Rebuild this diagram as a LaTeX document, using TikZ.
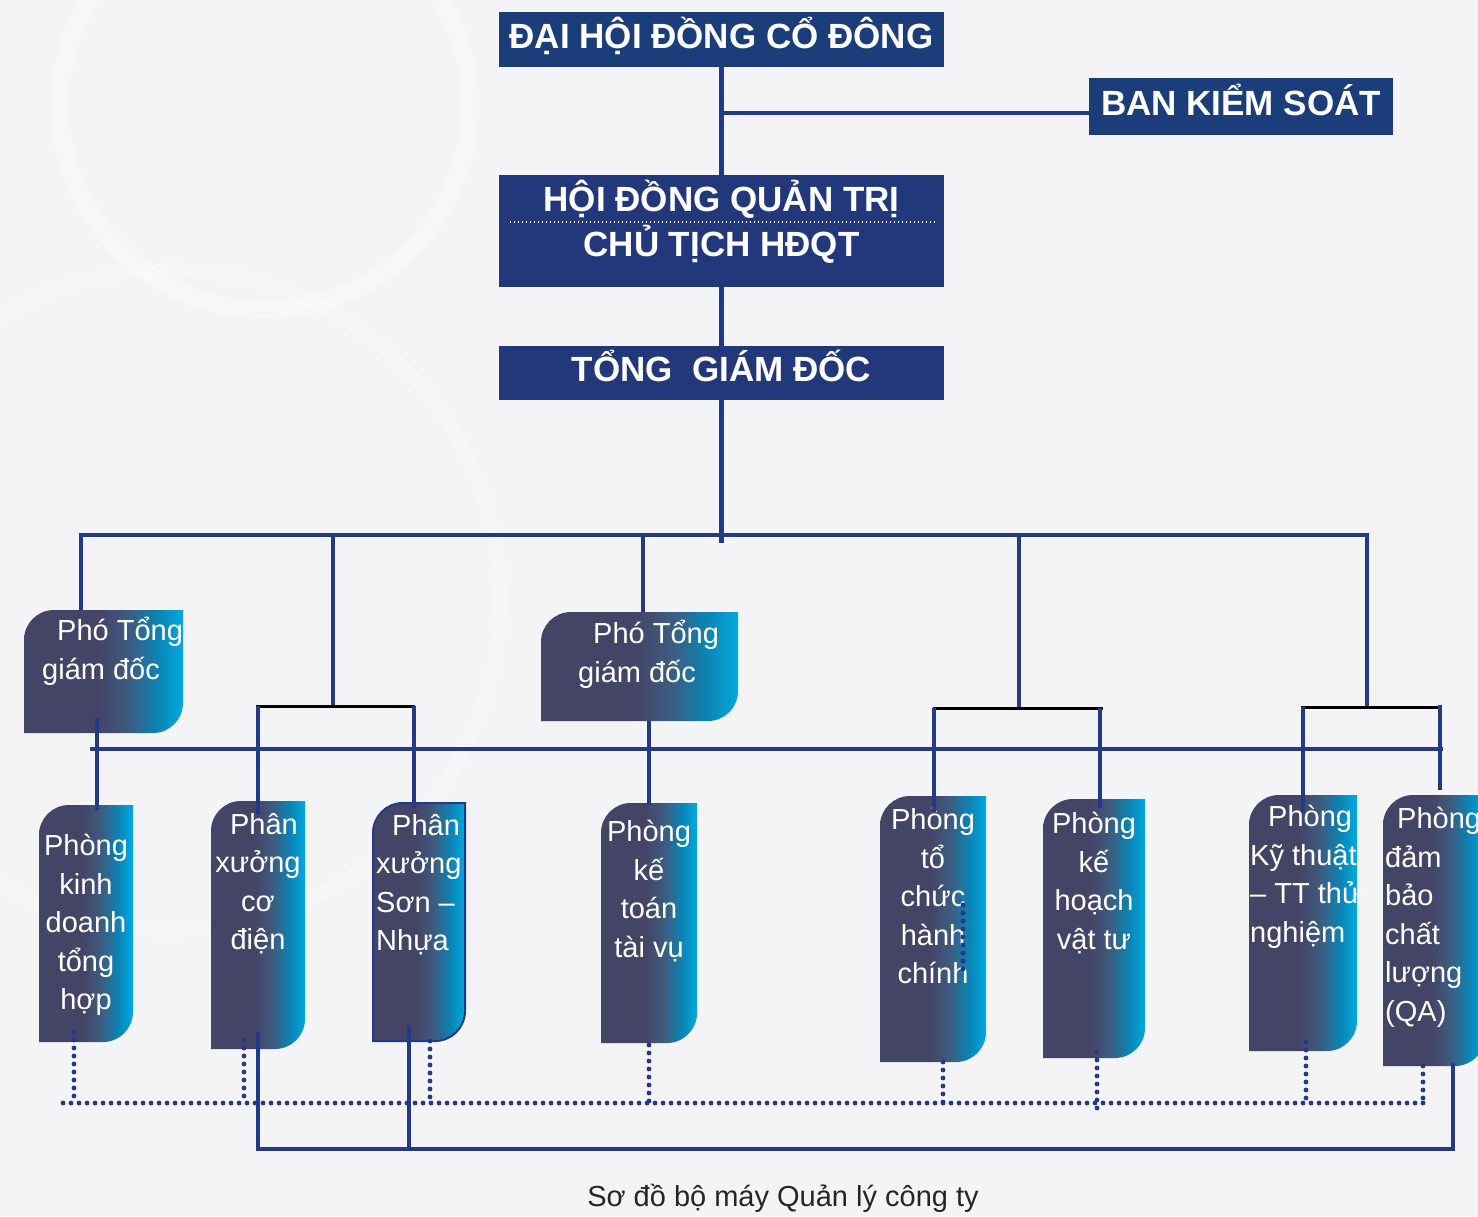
\documentclass[tikz,border=0pt]{standalone}
\usepackage{fontspec}
\setmainfont{Liberation Sans}
\usetikzlibrary{calc}
\definecolor{lineblue}{HTML}{233A86}
\definecolor{headblue}{HTML}{1B3E7B}
\definecolor{boardblue}{HTML}{22387A}
\definecolor{slate}{HTML}{444466}
\definecolor{steel}{HTML}{3D5C80}
\definecolor{sea}{HTML}{0B84B4}
\definecolor{sky}{HTML}{00AADF}
\definecolor{paper}{HTML}{F4F4F6}
\pgfdeclarehorizontalshading{leafshade}{100bp}{color(0bp)=(slate); color(25bp)=(slate); color(48bp)=(slate); color(58bp)=(steel); color(67bp)=(sea); color(75bp)=(sky); color(100bp)=(sky)}
\newcommand\headfont{\fontsize{35}{40}\selectfont\bfseries}
\newcommand\leaffont{\fontsize{29}{38.5}\selectfont}
\newcommand\capfont{\fontsize{29}{34}\selectfont}
% box with two rounded corners, shaded from left to right
\newcommand\leafshape[2][]{%
  \shade[shading=leafshade,#1] (#2.south west) -- ([yshift=-30pt]#2.north west)
    .. controls ([yshift=-13.4pt]#2.north west) and ([xshift=13.4pt]#2.north west) .. ([xshift=30pt]#2.north west)
    -- (#2.north east) -- ([yshift=30pt]#2.south east)
    .. controls ([yshift=13.4pt]#2.south east) and ([xshift=-13.4pt]#2.south east) .. ([xshift=-30pt]#2.south east)
    -- cycle;}
\tikzset{
  headbox/.style={fill=headblue, text=white, font=\headfont, inner sep=0pt, text height=25pt, text depth=8pt},
  headtext/.style={text=white, font=\headfont, inner sep=0pt},
  leafbox/.style={inner sep=0pt, outer sep=0pt},
  leaftext/.style={text=white, font=\leaffont, inner sep=0pt},
  conn/.style={draw=lineblue, line width=4.5pt},
  brk/.style={draw=black, line width=3pt},
  dotline/.style={draw=lineblue, line width=4.8pt, line cap=round, dash pattern=on 0pt off 8pt},
}
\begin{document}
\begin{tikzpicture}[x=1pt, y=-1pt]
  \useasboundingbox[fill=paper] (0,0) rectangle (1478,1216);
  \draw[white, line width=18pt, opacity=.3] (265,105) circle (205pt);
  \draw[white, line width=14pt, opacity=.25] (170,600) circle (330pt);

  % top of the chart
  \node[headbox, minimum width=445pt, minimum height=55pt] (dh) at (721.5,39.5) {ĐẠI HỘI ĐỒNG CỔ ĐÔNG};
  \node[headbox, minimum width=304pt, minimum height=57pt] (bks) at (1241,106.5) {BAN KIỂM SOÁT};
  \node[headbox, fill=boardblue, minimum width=445pt, minimum height=112pt] (hd) at (721.5,231) {};
  \node[headtext, anchor=base] (hd1) at ([yshift=20pt]hd.center) {HỘI ĐỒNG QUẢN TRỊ};
  \node[headtext, anchor=base] (hd2) at ([yshift=-25pt]hd.center) {CHỦ TỊCH HĐQT};
  \draw[white, line width=1.6pt, dash pattern=on 1.6pt off 2.4pt] ([xshift=11pt,yshift=9pt]hd.west) -- ([xshift=-9pt,yshift=9pt]hd.east);
  \node[headbox, fill=boardblue, minimum width=445pt, minimum height=54pt] (tg) at (721.5,373) {TỔNG\ \ GIÁM ĐỐC};

  % deputies and departments
  \node[leafbox, minimum width=159pt, minimum height=123pt] (pg1) at (103.5,671.5) {};
  \node[leafbox, minimum width=197pt, minimum height=109pt] (pg2) at (639.5,666.5) {};
  \node[leafbox, minimum width=94pt, minimum height=237pt] (kd) at (86,923.5) {};
  \node[leafbox, minimum width=94pt, minimum height=248pt] (cd) at (258,925) {};
  \node[leafbox, minimum width=92pt, minimum height=238pt] (sn) at (419,922) {};
  \node[leafbox, minimum width=96pt, minimum height=240pt] (kt) at (649,923) {};
  \node[leafbox, minimum width=106pt, minimum height=266pt] (tc) at (933,929) {};
  \node[leafbox, minimum width=102pt, minimum height=259pt] (kh) at (1094,928.5) {};
  \node[leafbox, minimum width=108pt, minimum height=256pt] (ktn) at (1303,923) {};
  \node[leafbox, minimum width=102pt, minimum height=271pt] (qa) at (1434,930.5) {};
  \leafshape{pg1}
  \leafshape{pg2}
  \leafshape{kd}
  \leafshape{cd}
  \leafshape[draw=lineblue, line width=2pt]{sn}
  \leafshape{kt}
  \leafshape{tc}
  \leafshape{kh}
  \leafshape{ktn}
  \leafshape{qa}

  \node[leaftext, anchor=north west, align=left] (pg1-t) at ([xshift=18pt,yshift=-7pt]pg1.north west) {\hspace*{15pt}Phó Tổng\\giám đốc};
  \node[leaftext, anchor=north west, align=left] (pg2-t) at ([xshift=37pt,yshift=-8pt]pg2.north west) {\hspace*{15pt}Phó Tổng\\giám đốc};
  \node[leaftext, anchor=north, align=center] (kd-t) at ([yshift=-29pt]kd.north) {Phòng\\kinh\\doanh\\tổng\\hợp};
  \node[leaftext, anchor=north, align=center] (cd-t) at ([yshift=-12pt]cd.north) {\hspace*{12pt}Phân\\xưởng\\cơ\\điện};
  \node[leaftext, anchor=north west, align=left] (sn-t) at ([xshift=3pt,yshift=-11pt]sn.north west) {\hspace*{16pt}Phân\\xưởng\\Sơn –\\Nhựa};
  \node[leaftext, anchor=north, align=center] (kt-t) at ([yshift=-17pt]kt.north) {Phòng\\kế\\toán\\tài vụ};
  \node[leaftext, anchor=north, align=center] (tc-t) at ([yshift=-12pt]tc.north) {Phòng\\tổ\\chức\\hành\\chính};
  \node[leaftext, anchor=north, align=center] (kh-t) at ([yshift=-13pt]kh.north) {Phòng\\kế\\hoạch\\vật tư};
  \node[leaftext, anchor=north west, align=left] (ktn-t) at ([xshift=1pt,yshift=-10pt]ktn.north west) {\hspace*{18pt}Phòng\\Kỹ thuật\\– TT thử\\nghiệm};
  \node[leaftext, anchor=north west, align=left] (qa-t) at ([xshift=2pt,yshift=-12pt]qa.north west) {\hspace*{12pt}Phòng\\đảm\\bảo\\chất\\lượng\\(QA)};

  \node[font=\capfont, text=black!85] (cap) at (783,1198) {Sơ đồ bộ máy Quản lý công ty};

  % solid lines
  \coordinate (bus) at (724,535);
  \coordinate (br1) at (333,706);
  \coordinate (br2) at (1019,708);
  \coordinate (br3) at (1367,707);
  \draw[conn] (dh) -- (hd);
  \draw[conn] ([yshift=-6.5pt]bks.west) -- ([yshift=-6.5pt]bks.west -| dh.south);
  \draw[conn] (hd) -- (tg);
  \draw[conn] (tg.south) -- ([yshift=-8pt]tg.south |- bus);
  \draw[conn] ([xshift=-22.5pt]pg1.north) |- (bus) -| (br3);
  \draw[conn] ([xshift=3.5pt]pg2.north |- bus) -- ([xshift=3.5pt]pg2.north);
  \draw[conn] (br1 |- bus) -- (br1);
  \draw[conn] (br2 |- bus) -- (br2);

  \draw[brk] ([xshift=-2pt]cd.north |- br1) -- ([xshift=-4pt]sn.north |- br1);
  \draw[brk] (tc.north |- br2) -- ([xshift=9pt]kh.north |- br2);
  \draw[brk] ([xshift=-2pt]ktn.north |- br3) -- ([xshift=7pt]qa.north |- br3);
  \draw[conn] (cd.north |- br1) -- ([yshift=-14pt]cd.north);
  \draw[conn] ([xshift=-5pt]sn.north |- br1) -- ([xshift=-5pt,yshift=-5pt]sn.north);
  \draw[conn] ([xshift=1pt]tc.north |- br2) -- ([xshift=1pt,yshift=-16pt]tc.north);
  \draw[conn] ([xshift=6pt]kh.north |- br2) -- ([xshift=6pt,yshift=-9pt]kh.north);
  \draw[conn] (ktn.north |- br3) -- ([yshift=-17pt]ktn.north);
  \draw[conn] ([xshift=6pt,yshift=2pt]qa.north |- br3) -- ([xshift=6pt,yshift=5pt]qa.north);

  \coordinate (b2l) at (90,749);
  \coordinate (b2r) at (1443,749);
  \draw[conn] (b2l) -- (b2r);
  \draw[conn] ([xshift=11pt,yshift=15pt]kd.north |- pg1.south) -- ([xshift=11pt,yshift=-5pt]kd.north);
  \draw[conn] (kt.north |- pg2.south) -- ([yshift=-2pt]kt.north);

  \coordinate (lp) at (258,1149);
  \draw[conn] ([yshift=17pt]cd.south) -- (lp) -| ([xshift=19pt,yshift=3pt]qa.south);
  \draw[conn] ([xshift=-10pt,yshift=16pt]sn.south) -- ([xshift=-10pt]sn.south |- lp);

  % dotted lines
  \coordinate (dl) at (63,1103);
  \coordinate (dr) at (1425,1103);
  \draw[dotline] (dl) -- (dr);
  \draw[dotline] ([xshift=-12pt,yshift=10pt]kd.south) -- ([xshift=-12pt]kd.south |- dl);
  \draw[dotline] ([xshift=-14pt,yshift=9pt]cd.south) -- ([xshift=-14pt]cd.south |- dl);
  \draw[dotline] ([xshift=11pt]sn.south) -- ([xshift=11pt]sn.south |- dl);
  \draw[dotline] ([yshift=-2pt]kt.south) -- (kt.south |- dl);
  \draw[dotline] ([xshift=10pt]tc.south) -- ([xshift=10pt]tc.south |- dl);
  \draw[dotline] ([xshift=3pt,yshift=6pt]kh.south) -- ([xshift=3pt,yshift=-5pt]kh.south |- dl);
  \draw[dotline] ([xshift=3pt,yshift=9pt]ktn.south) -- ([xshift=3pt]ktn.south |- dl);
  \draw[dotline] ([xshift=-11pt]qa.south) -- ([xshift=-11pt]qa.south |- dl);
  \draw[dotline] ([xshift=30pt,yshift=24pt]tc.center) -- ([xshift=30pt,yshift=-46pt]tc.center);
\end{tikzpicture}
\end{document}
